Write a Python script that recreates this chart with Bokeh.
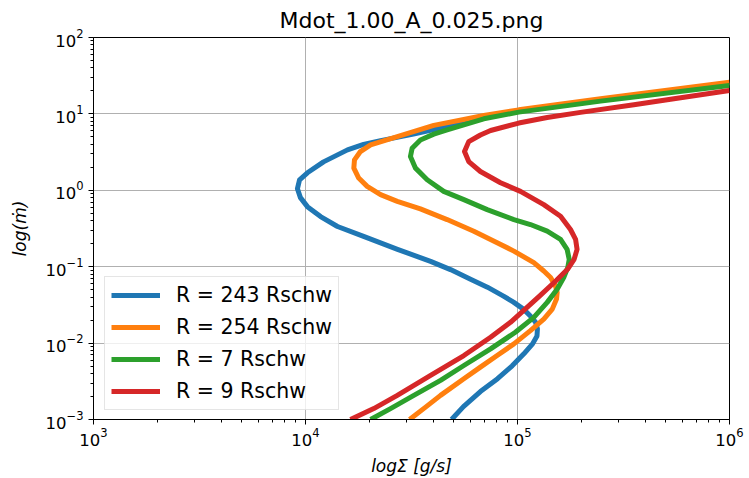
import numpy as np
from bokeh.plotting import figure
from bokeh.models import Legend, LegendItem, FixedTicker
from bokeh.embed import file_html
from bokeh.resources import INLINE

# ---- data, as log10 values (logSigma, log mdot) ----
labels = ["R = 243 Rschw", "R = 254 Rschw", "R = 7 Rschw", "R = 9 Rschw"]
colors = ["#1f77b4", "#ff7f0e", "#2ca02c", "#d62728"]

logsig_243 = [4.689, 4.745, 4.825, 4.906, 4.975, 5.030, 5.071, 5.092, 5.094, 5.085,
              5.061, 5.028, 4.981, 4.934, 4.858, 4.776, 4.684, 4.590, 4.434, 4.274,
              4.151, 4.071, 4.009, 3.976, 3.962, 3.972, 4.009, 4.085, 4.198, 4.274,
              4.354, 4.509, 4.637, 4.840, 5.005, 5.392, 6.0]
logmdot_243 = [-3.0, -2.831, -2.635, -2.466, -2.297, -2.141, -2.010, -1.906, -1.815, -1.724,
               -1.646, -1.555, -1.464, -1.385, -1.268, -1.162, -1.038, -0.930, -0.773, -0.604,
               -0.474, -0.344, -0.214, -0.096, 0.021, 0.138, 0.229, 0.372, 0.529, 0.600,
               0.650, 0.735, 0.815, 0.958, 1.036, 1.180, 1.395]

logsig_254 = [4.491, 4.568, 4.637, 4.747, 4.825, 4.904, 4.983, 5.061, 5.124, 5.164,
              5.184, 5.187, 5.179, 5.156, 5.124, 5.077, 4.983, 4.904, 4.794, 4.668,
              4.542, 4.433, 4.354, 4.291, 4.251, 4.228, 4.231, 4.259, 4.307, 4.433,
              4.605, 4.841, 5.006, 5.392, 6.0]
logmdot_254 = [-3.0, -2.835, -2.684, -2.466, -2.314, -2.163, -2.010, -1.837, -1.685, -1.555,
               -1.424, -1.337, -1.251, -1.142, -1.056, -0.947, -0.796, -0.686, -0.535, -0.383,
               -0.244, -0.144, -0.057, 0.051, 0.160, 0.290, 0.398, 0.507, 0.594, 0.702,
               0.850, 0.980, 1.053, 1.197, 1.414]

logsig_7 = [4.307, 4.401, 4.511, 4.637, 4.747, 4.873, 4.990, 5.077, 5.140, 5.187,
            5.218, 5.237, 5.244, 5.234, 5.203, 5.140, 5.061, 4.983, 4.857, 4.747,
            4.652, 4.574, 4.519, 4.495, 4.503, 4.542, 4.605, 4.668, 4.841, 5.006,
            5.392, 6.0]
logmdot_7 = [-3.0, -2.857, -2.684, -2.488, -2.293, -2.076, -1.858, -1.663, -1.467, -1.294,
             -1.142, -1.012, -0.904, -0.773, -0.643, -0.535, -0.448, -0.383, -0.253, -0.122,
             -0.014, 0.138, 0.290, 0.441, 0.551, 0.659, 0.735, 0.790, 0.936, 1.023,
             1.167, 1.371]

logsig_9 = [4.212, 4.322, 4.433, 4.590, 4.747, 4.873, 4.967, 5.036, 5.105, 5.184,
            5.236, 5.267, 5.281, 5.274, 5.250, 5.203, 5.124, 5.014, 4.920, 4.825,
            4.770, 4.750, 4.770, 4.825, 4.873, 5.006, 5.140, 5.297, 5.549, 5.722,
            6.0]
logmdot_9 = [-3.0, -2.857, -2.684, -2.423, -2.163, -1.923, -1.728, -1.555, -1.381, -1.177,
             -1.034, -0.904, -0.773, -0.643, -0.513, -0.340, -0.188, -0.014, 0.099, 0.246,
             0.376, 0.507, 0.637, 0.724, 0.783, 0.880, 0.952, 1.020, 1.121, 1.193,
             1.306]

x_major = [1e3, 1e4, 1e5, 1e6]
y_major = [1e-3, 1e-2, 1e-1, 1e0, 1e1, 1e2]

series = [(logsig_243, logmdot_243), (logsig_254, logmdot_254),
          (logsig_7, logmdot_7), (logsig_9, logmdot_9)]

FONT = "DejaVu Sans"

p = figure(width=749, height=478, x_axis_type="log", y_axis_type="log",
           x_range=(1e3, 1e6), y_range=(1e-3, 1e2),
           output_backend="svg", toolbar_location=None,
           min_border_left=93, min_border_right=20, min_border_top=37, min_border_bottom=57)

p.title.text = "Mdot_1.00_A_0.025.png"
p.title.align = "center"
p.title.text_font = FONT
p.title.text_font_size = "22px"
p.title.text_font_style = "normal"
p.title.text_color = "black"

minor_x = [m * 10.0 ** e for e in range(3, 6) for m in range(2, 10)]
minor_y = [m * 10.0 ** e for e in range(-3, 2) for m in range(2, 10)]
p.xaxis.ticker = FixedTicker(ticks=x_major, minor_ticks=minor_x)
p.yaxis.ticker = FixedTicker(ticks=y_major, minor_ticks=minor_y)

for ax in (p.xaxis, p.yaxis):
    ax.axis_line_color = "black"
    ax.axis_line_width = 1
    ax.major_tick_line_color = "black"
    ax.minor_tick_line_color = "black"
    ax.major_tick_in = 0
    ax.major_tick_out = 5
    ax.minor_tick_in = 0
    ax.minor_tick_out = 3
    ax.major_label_text_font = FONT
    ax.major_label_text_font_size = "16.5px"
    ax.major_label_text_color = "black"
    ax.axis_label_text_font = FONT
    ax.axis_label_text_font_size = "17px"
    ax.axis_label_text_color = "black"
    ax.axis_label_text_font_style = "italic"

p.yaxis.axis_label = "log(ṁ)"
p.yaxis.axis_label_standoff = 12
p.xaxis.axis_label = "logΣ [g/s]"
p.xaxis.major_label_standoff = 3
p.xaxis.axis_label_standoff = 7

p.grid.grid_line_color = "#b0b0b0"
p.grid.grid_line_width = 1
p.outline_line_color = "black"
p.outline_line_width = 1
p.outline_line_alpha = 1

items = []
for (lx, ly), c, lab in zip(series, colors, labels):
    xs = [10.0 ** v for v in lx]
    ys = [10.0 ** v for v in ly]
    r = p.line(xs, ys, line_color=c, line_width=5, line_join="round", line_cap="butt")
    items.append(LegendItem(label=lab, renderers=[r]))

legend = Legend(items=items, location=(11, 9), margin=0, padding=6, spacing=8,
                glyph_width=49, glyph_height=24, label_height=24, label_standoff=16,
                label_text_font=FONT, label_text_font_size="20.5px", label_text_color="black",
                border_line_color="#cccccc", border_line_width=1,
                background_fill_color="white", background_fill_alpha=0.8)
p.add_layout(legend)

open("out.html", "w").write(file_html(p, INLINE))
